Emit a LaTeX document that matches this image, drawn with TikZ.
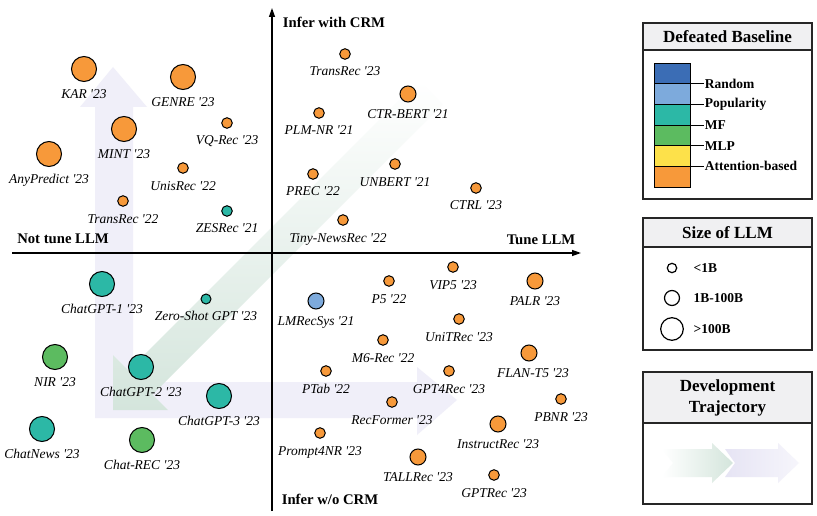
\documentclass[tikz,border=0pt]{standalone}
\usepackage{fontspec}
\setmainfont{Liberation Serif}[Ligatures=TeXOff]
\usepackage{xcolor}
\usetikzlibrary{positioning,arrows.meta}

\definecolor{cRandom}{HTML}{3B6DB5}
\definecolor{cPop}{HTML}{7DAADC}
\definecolor{cMF}{HTML}{2CB8A6}
\definecolor{cMLP}{HTML}{5CBB60}
\definecolor{cAtt}{HTML}{FDE14A}
\definecolor{cOrange}{HTML}{F7993A}
\definecolor{trajGreen}{HTML}{D4E5DC}
\definecolor{trajPurple}{HTML}{F0EFF9}
\definecolor{trajPurpleDark}{HTML}{E6E4F4}
\definecolor{headGray}{HTML}{F0F0F2}

\begin{document}
\begin{tikzpicture}[x=1pt,y=-1pt,>={Triangle[length=9pt,width=6pt]},
    dot/.style={circle,draw=black,line width=1pt,inner sep=0pt},
    small node/.style={dot,minimum size=10.6pt},
    mid node/.style={dot,minimum size=16pt},
    big node/.style={dot,minimum size=25pt},
    lbl/.style={font=\fontsize{13.5}{15}\selectfont\itshape,inner sep=0pt,text height=9pt,text depth=3pt},
    axis label/.style={font=\fontsize{14.7}{16}\selectfont\bfseries},
    legend box/.style={draw=black!85,line width=1.2pt,minimum width=169pt,inner sep=0pt},
    box head/.style={legend box,fill=headGray,font=\fontsize{17}{21}\selectfont\bfseries,align=center},
    legend text/.style={font=\fontsize{13.5}{15}\selectfont\bfseries,inner sep=0.5pt}]

  \path[fill=white,use as bounding box] (0,0) rectangle (817,516);

  % development trajectory in the plot
  \fill[trajPurple] (95,418) -- (95,107) -- (80,107) -- (113,67) -- (147,107) -- (133,107)
    -- (133,382) -- (417,382) -- (417,367) -- (457,400) -- (417,435) -- (417,418) -- cycle;
  \shade[top color=white,bottom color=trajGreen] (113,410) -- (113,355) -- (128.5,370.5)
    -- (418.5,80.5) -- (442.5,104.5) -- (152.5,394.5) -- (168,410) -- cycle;

  % axes
  \coordinate (xl) at (12,253);
  \coordinate (xr) at (581,253);
  \coordinate (yb) at (272,511);
  \coordinate (yt) at (272,8);
  \draw[->,line width=1.3pt] (xl) -- (xr);
  \draw[->,line width=1.3pt] (yb) -- (yt);

  \node[axis label] (notune) at (63,239) {Not tune LLM};
  \node[axis label] (tune) at (541,240) {Tune LLM};
  \node[axis label] (withcrm) at (334,22) {Infer with CRM};
  \node[axis label] (wocrm) at (330,499) {Infer w/o CRM};

  % not tune LLM, infer with CRM
  \node[big node,fill=cOrange] (kar) at (84,69) {};
  \node[lbl,below=7pt of kar] (kar-l) {KAR '23};
  \node[big node,fill=cOrange] (genre) at (183,77) {};
  \node[lbl,below=7pt of genre] (genre-l) {GENRE '23};
  \node[big node,fill=cOrange] (mint) at (124,129) {};
  \node[lbl,below=7pt of mint] (mint-l) {MINT '23};
  \node[big node,fill=cOrange] (anypred) at (49,154) {};
  \node[lbl,below=7pt of anypred] (anypred-l) {AnyPredict '23};
  \node[small node,fill=cOrange] (vqrec) at (227,123) {};
  \node[lbl,below=7pt of vqrec] (vqrec-l) {VQ-Rec '23};
  \node[small node,fill=cOrange] (unisrec) at (183,168) {};
  \node[lbl,below=7pt of unisrec] (unisrec-l) {UnisRec '22};
  \node[small node,fill=cOrange] (transrec1) at (123,201) {};
  \node[lbl,below=7pt of transrec1] (transrec1-l) {TransRec '22};
  \node[small node,fill=cMF] (zesrec) at (227,211) {};
  \node[lbl,below=7pt of zesrec] (zesrec-l) {ZESRec '21};

  % tune LLM, infer with CRM
  \node[small node,fill=cOrange] (transrec2) at (345,54) {};
  \node[lbl,below=7pt of transrec2] (transrec2-l) {TransRec '23};
  \node[mid node,fill=cOrange] (ctrbert) at (408,94) {};
  \node[lbl,below=7pt of ctrbert] (ctrbert-l) {CTR-BERT '21};
  \node[small node,fill=cOrange] (plmnr) at (319,113) {};
  \node[lbl,below=7pt of plmnr] (plmnr-l) {PLM-NR '21};
  \node[small node,fill=cOrange] (prec) at (313,174) {};
  \node[lbl,below=7pt of prec] (prec-l) {PREC '22};
  \node[small node,fill=cOrange] (unbert) at (395,164) {};
  \node[lbl,below=7pt of unbert] (unbert-l) {UNBERT '21};
  \node[small node,fill=cOrange] (ctrl) at (476,188) {};
  \node[lbl,below=7pt of ctrl] (ctrl-l) {CTRL '23};
  \node[small node,fill=cOrange] (tiny) at (343,220) {};
  \node[lbl,below=7pt of tiny,xshift=-5pt] (tiny-l) {Tiny-NewsRec '22};

  % not tune LLM, infer w/o CRM
  \node[big node,fill=cMF] (gpt1) at (102,284) {};
  \node[lbl,below=7pt of gpt1] (gpt1-l) {ChatGPT-1 '23};
  \node[small node,fill=cMF,minimum size=10pt] (zeroshot) at (206,299) {};
  \node[lbl,below=7pt of zeroshot] (zeroshot-l) {Zero-Shot GPT '23};
  \node[big node,fill=cMLP] (nir) at (55,357) {};
  \node[lbl,below=7pt of nir] (nir-l) {NIR '23};
  \node[big node,fill=cMF] (gpt2) at (141,367) {};
  \node[lbl,below=7pt of gpt2] (gpt2-l) {ChatGPT-2 '23};
  \node[big node,fill=cMF] (gpt3) at (219,396) {};
  \node[lbl,below=7pt of gpt3] (gpt3-l) {ChatGPT-3 '23};
  \node[big node,fill=cMF] (chatnews) at (42,429) {};
  \node[lbl,below=7pt of chatnews] (chatnews-l) {ChatNews '23};
  \node[big node,fill=cMLP] (chatrec) at (142,440) {};
  \node[lbl,below=7pt of chatrec] (chatrec-l) {Chat-REC '23};

  % tune LLM, infer w/o CRM
  \node[small node,fill=cOrange] (vip5) at (453,267) {};
  \node[lbl,below=7pt of vip5] (vip5-l) {VIP5 '23};
  \node[small node,fill=cOrange] (p5) at (389,281) {};
  \node[lbl,below=7pt of p5] (p5-l) {P5 '22};
  \node[mid node,fill=cOrange] (palr) at (535,281) {};
  \node[lbl,below=7pt of palr] (palr-l) {PALR '23};
  \node[mid node,fill=cPop] (lmrecsys) at (316,301) {};
  \node[lbl,below=7pt of lmrecsys] (lmrecsys-l) {LMRecSys '21};
  \node[small node,fill=cOrange] (unitrec) at (459,319) {};
  \node[lbl,below=7pt of unitrec] (unitrec-l) {UniTRec '23};
  \node[small node,fill=cOrange] (m6rec) at (383,340) {};
  \node[lbl,below=7pt of m6rec] (m6rec-l) {M6-Rec '22};
  \node[mid node,fill=cOrange] (flant5) at (529,353) {};
  \node[lbl,below=7pt of flant5,xshift=4pt] (flant5-l) {FLAN-T5 '23};
  \node[small node,fill=cOrange] (ptab) at (326,371) {};
  \node[lbl,below=7pt of ptab] (ptab-l) {PTab '22};
  \node[small node,fill=cOrange] (gpt4rec) at (449,371) {};
  \node[lbl,below=7pt of gpt4rec] (gpt4rec-l) {GPT4Rec '23};
  \node[small node,fill=cOrange] (pbnr) at (561,399) {};
  \node[lbl,below=7pt of pbnr] (pbnr-l) {PBNR '23};
  \node[small node,fill=cOrange] (recformer) at (392,402) {};
  \node[lbl,below=7pt of recformer] (recformer-l) {RecFormer '23};
  \node[mid node,fill=cOrange] (instructrec) at (498,424) {};
  \node[lbl,below=7pt of instructrec] (instructrec-l) {InstructRec '23};
  \node[small node,fill=cOrange] (prompt4nr) at (320,433) {};
  \node[lbl,below=7pt of prompt4nr] (prompt4nr-l) {Prompt4NR '23};
  \node[mid node,fill=cOrange] (tallrec) at (418,457) {};
  \node[lbl,below=7pt of tallrec] (tallrec-l) {TALLRec '23};
  \node[small node,fill=cOrange] (gptrec) at (494,475) {};
  \node[lbl,below=7pt of gptrec] (gptrec-l) {GPTRec '23};

  % legend: defeated baseline
  \node[legend box,minimum height=176pt] (base) at (727.5,111) {};
  \node[box head,minimum height=27pt,anchor=north] (base-h) at (base.north) {Defeated Baseline};
  \foreach \c [count=\i from 0] in {cRandom,cPop,cMF,cMLP,cAtt,cOrange}
    \draw[fill=\c,line width=0.8pt] (654,63+\i*20.67) rectangle ++(36,20.67);
  \foreach \t [count=\i] in {Random,Popularity,MF,MLP,Attention-based}
    \draw[line width=0.8pt] (690,63+\i*20.67) -- ++(14,0) node[legend text,anchor=west] {\t};

  % legend: size of LLM
  \node[legend box,minimum height=132pt] (size) at (727.5,284) {};
  \node[box head,minimum height=29pt,anchor=north] (size-h) at (size.north) {Size of LLM};
  \node[dot,line width=1.2pt,fill=white,minimum size=9.4pt] (s1) at (672,268) {};
  \node[dot,line width=1.2pt,fill=white,minimum size=15pt] (s2) at (672,298) {};
  \node[dot,line width=1.2pt,fill=white,minimum size=22.6pt] (s3) at (672,329) {};
  \node[legend text,anchor=west] (s1-l) at (693,268) {<1B};
  \node[legend text,anchor=west] (s2-l) at (693,298) {1B-100B};
  \node[legend text,anchor=west] (s3-l) at (693,329) {>100B};

  % legend: development trajectory
  \node[legend box,minimum height=132pt] (traj) at (727.5,438) {};
  \node[box head,minimum height=51pt,anchor=north] (traj-h) at (traj.north) {Development\\Trajectory};
  \shade[left color=trajPurpleDark,right color=trajPurple!60!white] (725,449) -- (778,449) -- (778,443)
    -- (799,463) -- (778,483) -- (778,477) -- (725,477) -- (735,463) -- cycle;
  \shade[left color=white,right color=trajGreen] (662,449) -- (712,449) -- (712,443)
    -- (733,463) -- (712,483) -- (712,477) -- (662,477) -- (673,463) -- cycle;
\end{tikzpicture}
\end{document}
